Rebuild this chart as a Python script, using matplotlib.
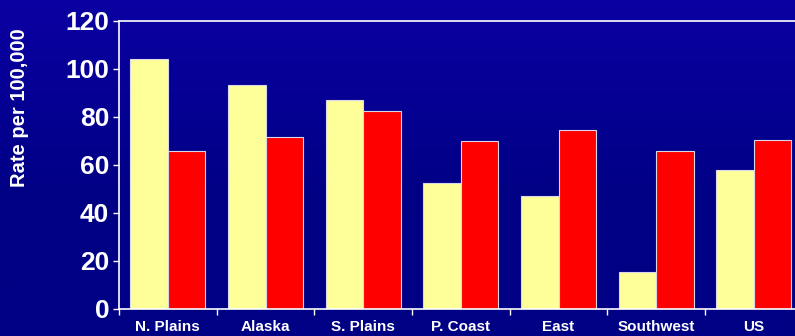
import matplotlib.pyplot as plt
import numpy as np

regions = ['N. Plains', 'Alaska', 'S. Plains', 'P. Coast', 'East', 'Southwest', 'US']
rate_a = [104.2, 93.2, 87.0, 52.4, 47.0, 15.4, 57.9]
rate_b = [65.8, 71.6, 82.4, 69.9, 74.5, 65.8, 70.5]

plt.rcParams['font.family'] = ['Liberation Sans', 'DejaVu Sans']

fig = plt.figure(figsize=(7.95, 3.36), dpi=100)

# blue gradient background
bg = fig.add_axes([0, 0, 1, 1], zorder=-1)
t = np.linspace(0, 1, 200)
top = np.array([0x0b, 0x00, 0xa2]) / 255
bot = np.array([0x00, 0x00, 0x84]) / 255
k = np.clip(t / 0.6, 0, 1)[:, None]
grad = top * (1 - k) + bot * k
bg.imshow(grad[:, None, :], aspect='auto', extent=[0, 1, 0, 1])
bg.axis('off')

ax = fig.add_axes([0.1497, 0.0804, 0.860, 0.858])
ax.patch.set_alpha(0)
x = np.arange(len(regions))
w = 0.383
ax.bar(x - w / 2, rate_a, w, color='#ffff99', edgecolor='#d8d8e8', linewidth=0.8)
ax.bar(x + w / 2, rate_b, w, color='#ff0000', edgecolor='#d8d8e8', linewidth=0.8)

ax.set_xlim(-0.5, 6.5)
ax.set_ylim(0, 120)
ax.set_yticks([0, 20, 40, 60, 80, 100, 120])
ax.set_xticks(x)
ax.set_xticklabels(regions)
ax.set_xticks(np.arange(-0.5, 6.5, 1), minor=True)
ax.tick_params(axis='x', which='major', length=0, pad=8, colors='white', labelsize=11)
ax.tick_params(axis='x', which='minor', length=4, color='white', width=1)
ax.tick_params(axis='y', length=4, width=1, pad=3, colors='white', labelsize=19)
for lab in ax.get_xticklabels() + ax.get_yticklabels():
    lab.set_fontweight('bold')
for s in ax.spines.values():
    s.set_color('white')
    s.set_linewidth(1.2)

fig.text(0.024, 0.68, 'Rate per 100,000', rotation=90, color='white',
         fontsize=14.5, fontweight='bold', ha='center', va='center')

fig.savefig('out.png', dpi=100)
